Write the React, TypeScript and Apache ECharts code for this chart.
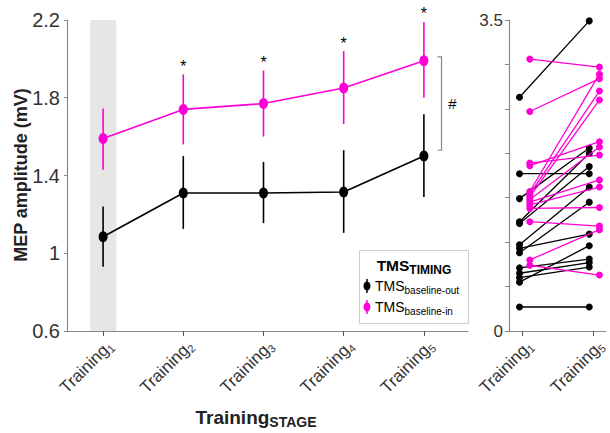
import React, { useEffect, useRef } from "react";
import * as echarts from "echarts";

// ---------- Data ----------
const stages = [1, 2, 3, 4, 5];
const pinkMean = [1.59, 1.74, 1.77, 1.85, 1.99];
const pinkLow = [1.43, 1.56, 1.6, 1.665, 1.8];
const pinkHigh = [1.745, 1.92, 1.94, 2.04, 2.19];
const blackMean = [1.085, 1.31, 1.31, 1.315, 1.5];
const blackLow = [0.93, 1.125, 1.155, 1.105, 1.29];
const blackHigh = [1.24, 1.5, 1.47, 1.53, 1.715];
const sigStages = [2, 3, 4, 5];
const bracketStage = 5.22;
const bracketTop = 2.01;
const bracketBottom = 1.53;
const bandFrom = 0.84;
const bandTo = 1.165;

const yTicksLeft = { min: 0.6, max: 2.2, step: 0.4 };
const yTicksRight = { min: 0, max: 3.5, step: 0.5 };
const rightLabels = ["1", "5"]; // Training1, Training5
const rightPositions = [1, 2];

const outT1 = [2.63, 1.77, 1.49, 1.23, 1.21, 0.97, 0.93, 0.88, 0.71, 0.65, 0.55, 0.6, 0.27];
const outT5 = [3.49, 1.77, 2.06, 2.0, 1.85, 1.62, 1.09, 1.45, 0.81, 0.77, 0.96, 0.72, 0.27];
const inT1 = [3.06, 2.47, 1.89, 1.86, 1.57, 1.54, 1.51, 1.48, 1.45, 1.42, 1.38, 1.23, 0.8, 0.74];
const inT5 = [2.97, 2.84, 1.98, 2.13, 2.89, 2.7, 2.6, 2.07, 1.7, 1.62, 1.39, 1.18, 1.14, 0.63];

// ---------- Styles ----------
const FONT = "'Liberation Sans', Arial, Helvetica, sans-serif";
const PINK = "#ff00d4";
const BLACK = "#000000";
const AXIS = "#8a8a8a";
const TXT = "#333333";
const OUT_OFF = [-0.045, -0.063];
const IN_OFF = [0.1, 0.08];

function errorBars(low: number[], high: number[], color: string) {
  return {
    type: "custom",
    xAxisIndex: 0,
    yAxisIndex: 0,
    silent: true,
    z: 3,
    data: stages.map((s, i) => [s, low[i], high[i]]),
    encode: { x: 0, y: [1, 2] },
    renderItem: (_p: any, api: any) => {
      const a = api.coord([api.value(0), api.value(1)]);
      const b = api.coord([api.value(0), api.value(2)]);
      return {
        type: "line",
        shape: { x1: a[0], y1: a[1], x2: b[0], y2: b[1] },
        style: { stroke: color, lineWidth: 1.6 },
      };
    },
  };
}

function subLabel(size: number, subSize: number, pad: number, bold = false) {
  return {
    a: { fontSize: size, fontFamily: FONT, color: TXT, fontWeight: bold ? "bold" : "normal" },
    s: { fontSize: subSize, fontFamily: FONT, color: TXT, padding: [pad, 0, 0, 0], fontWeight: bold ? "bold" : "normal" },
  };
}

export default function App() {
  const ref = useRef<HTMLDivElement>(null);
  useEffect(() => {
    if (!ref.current) return;
    const chart = echarts.init(ref.current, undefined, { renderer: "svg" });

    const pairSeries: any[] = [];
    outT1.forEach((v, i) => {
      pairSeries.push({
        type: "line",
        xAxisIndex: 1,
        yAxisIndex: 1,
        silent: true,
        z: 3,
        symbol: "circle",
        symbolSize: 7,
        itemStyle: { color: BLACK },
        lineStyle: { color: BLACK, width: 1.3 },
        data: [
          [rightPositions[0] + OUT_OFF[0], v],
          [rightPositions[1] + OUT_OFF[1], outT5[i]],
        ],
      });
    });
    inT1.forEach((v, i) => {
      pairSeries.push({
        type: "line",
        xAxisIndex: 1,
        yAxisIndex: 1,
        silent: true,
        z: 4,
        symbol: "circle",
        symbolSize: 7,
        itemStyle: { color: PINK },
        lineStyle: { color: PINK, width: 1.3 },
        data: [
          [rightPositions[0] + IN_OFF[0], v],
          [rightPositions[1] + IN_OFF[1], inT5[i]],
        ],
      });
    });

    const xLabelCommon = {
      rotate: 45,
      margin: 5,
      fontSize: 17,
      fontFamily: FONT,
      color: TXT,
      verticalAlign: "top",
      rich: subLabel(17, 11, 9),
    };

    const option: any = {
      animation: false,
      grid: [
        { left: 67, top: 20, width: 401, bottom: 102 },
        { left: 509, top: 20, width: 101, bottom: 102 },
      ],
      xAxis: [
        {
          type: "value",
          gridIndex: 0,
          min: 0.55,
          max: 5.55,
          splitLine: { show: false },
          axisLine: { show: true, lineStyle: { color: AXIS, width: 1.2 } },
          axisTick: { show: true, customValues: stages, length: 5, lineStyle: { color: "#555" } },
          axisLabel: {
            ...xLabelCommon,
            customValues: stages,
            formatter: (v: number) => `{a|Training}{s|${v}}`,
          },
        },
        {
          type: "value",
          gridIndex: 1,
          min: 0.807,
          max: 2.17,
          splitLine: { show: false },
          axisLine: { show: true, lineStyle: { color: AXIS, width: 1.2 } },
          axisTick: { show: true, customValues: rightPositions, length: 5, lineStyle: { color: "#555" } },
          axisLabel: {
            ...xLabelCommon,
            customValues: rightPositions,
            formatter: (v: number) => `{a|Training}{s|${rightLabels[Math.round(v) - 1]}}`,
          },
        },
      ],
      yAxis: [
        {
          type: "value",
          gridIndex: 0,
          min: yTicksLeft.min,
          max: yTicksLeft.max,
          interval: yTicksLeft.step,
          splitLine: { show: false },
          axisLine: { show: true, lineStyle: { color: AXIS, width: 1.2 } },
          axisTick: { show: true, length: 3, lineStyle: { color: AXIS } },
          axisLabel: {
            fontSize: 20,
            margin: 7,
            fontFamily: FONT,
            color: TXT,
            formatter: (v: number) => String(Math.round(v * 10) / 10),
          },
        },
        {
          type: "value",
          gridIndex: 1,
          min: yTicksRight.min,
          max: yTicksRight.max,
          interval: yTicksRight.step,
          splitLine: { show: false },
          axisLine: { show: true, lineStyle: { color: AXIS, width: 1.2 } },
          axisTick: { show: true, length: 4, lineStyle: { color: AXIS } },
          axisLabel: {
            fontSize: 17,
            margin: 6,
            fontFamily: FONT,
            color: TXT,
            showMaxLabel: true,
            formatter: (v: number) =>
              Math.abs(v - yTicksRight.min) < 1e-6 || Math.abs(v - yTicksRight.max) < 1e-6
                ? String(Math.round(v * 10) / 10)
                : "",
          },
        },
      ],
      graphic: [
        {
          type: "text",
          x: 21,
          y: 175,
          rotation: Math.PI / 2,
          style: {
            text: "MEP amplitude (mV)",
            fontSize: 18,
            fontWeight: "bold",
            fontFamily: FONT,
            fill: "#222",
            align: "center",
            verticalAlign: "middle",
          },
        },
        {
          type: "text",
          x: 256,
          y: 417,
          style: {
            text: "{a|Training}{s|STAGE}",
            fill: "#222",
            align: "center",
            verticalAlign: "middle",
            rich: {
              a: { fontSize: 19, fontWeight: "bold", fontFamily: FONT, fill: "#222" },
              s: { fontSize: 14, fontWeight: "bold", fontFamily: FONT, fill: "#222", padding: [10, 0, 0, 0] },
            },
          },
        },
        // legend box
        {
          type: "rect",
          shape: { x: 359.5, y: 250.5, width: 109, height: 73 },
          style: { fill: "#ffffff", stroke: "#cccccc", lineWidth: 1 },
          z: 50,
        },
        {
          type: "text",
          x: 414,
          y: 265,
          z: 51,
          style: {
            text: "{a|TMS}{s|TIMING}",
            align: "center",
            verticalAlign: "middle",
            rich: {
              a: { fontSize: 15.5, fontWeight: "bold", fontFamily: FONT, fill: "#000" },
              s: { fontSize: 12, fontWeight: "bold", fontFamily: FONT, fill: "#000", padding: [9, 0, 0, 0] },
            },
          },
        },
        {
          type: "line",
          z: 51,
          shape: { x1: 367, y1: 279, x2: 367, y2: 293 },
          style: { stroke: BLACK, lineWidth: 1.5 },
        },
        {
          type: "ellipse",
          z: 52,
          shape: { cx: 367, cy: 286, rx: 3.5, ry: 4.5 },
          style: { fill: BLACK },
        },
        {
          type: "text",
          x: 375,
          y: 286,
          z: 51,
          style: {
            text: "{a|TMS}{s|baseline-out}",
            align: "left",
            verticalAlign: "middle",
            rich: {
              a: { fontSize: 14, fontFamily: FONT, fill: "#000" },
              s: { fontSize: 10, fontFamily: FONT, fill: "#000", padding: [8, 0, 0, 0] },
            },
          },
        },
        {
          type: "line",
          z: 51,
          shape: { x1: 367, y1: 300, x2: 367, y2: 314 },
          style: { stroke: PINK, lineWidth: 1.5 },
        },
        {
          type: "ellipse",
          z: 52,
          shape: { cx: 367, cy: 307, rx: 3.5, ry: 4.5 },
          style: { fill: PINK },
        },
        {
          type: "text",
          x: 375,
          y: 307,
          z: 51,
          style: {
            text: "{a|TMS}{s|baseline-in}",
            align: "left",
            verticalAlign: "middle",
            rich: {
              a: { fontSize: 14, fontFamily: FONT, fill: "#000" },
              s: { fontSize: 10, fontFamily: FONT, fill: "#000", padding: [8, 0, 0, 0] },
            },
          },
        },
      ],
      series: [
        {
          type: "line",
          xAxisIndex: 0,
          yAxisIndex: 0,
          z: 1,
          silent: true,
          data: [],
          markArea: {
            silent: true,
            itemStyle: { color: "#e6e6e6" },
            data: [[{ xAxis: bandFrom }, { xAxis: bandTo }]],
          },
        },
        errorBars(blackLow, blackHigh, BLACK),
        errorBars(pinkLow, pinkHigh, PINK),
        {
          type: "line",
          xAxisIndex: 0,
          yAxisIndex: 0,
          z: 4,
          silent: true,
          symbol: "circle",
          symbolSize: [9, 11],
          itemStyle: { color: BLACK },
          lineStyle: { color: BLACK, width: 1.6 },
          data: stages.map((s, i) => [s, blackMean[i]]),
        },
        {
          type: "line",
          xAxisIndex: 0,
          yAxisIndex: 0,
          z: 4,
          silent: true,
          symbol: "circle",
          symbolSize: [9, 11],
          itemStyle: { color: PINK },
          lineStyle: { color: PINK, width: 1.6 },
          data: stages.map((s, i) => [s, pinkMean[i]]),
        },
        {
          type: "custom",
          xAxisIndex: 0,
          yAxisIndex: 0,
          silent: true,
          z: 5,
          data: sigStages.map((s) => [s, pinkHigh[stages.indexOf(s)]]),
          encode: { x: 0, y: 1 },
          renderItem: (_p: any, api: any) => {
            const c = api.coord([api.value(0), api.value(1)]);
            return {
              type: "text",
              x: c[0],
              y: c[1] - 8,
              style: {
                text: "*",
                fill: "#000",
                fontSize: 16,
                fontFamily: FONT,
                align: "center",
                verticalAlign: "middle",
              },
            };
          },
        },
        {
          type: "custom",
          xAxisIndex: 0,
          yAxisIndex: 0,
          silent: true,
          z: 5,
          data: [[bracketStage, bracketTop, bracketBottom]],
          encode: { x: 0, y: [1, 2] },
          renderItem: (_p: any, api: any) => {
            const t = api.coord([api.value(0), api.value(1)]);
            const b = api.coord([api.value(0), api.value(2)]);
            return {
              type: "group",
              children: [
                {
                  type: "polyline",
                  shape: {
                    points: [
                      [t[0] - 4, t[1]],
                      [t[0], t[1]],
                      [b[0], b[1]],
                      [b[0] - 4, b[1]],
                    ],
                  },
                  style: { stroke: "#888", lineWidth: 1.2, fill: "none" },
                },
                {
                  type: "text",
                  x: t[0] + 11,
                  y: (t[1] + b[1]) / 2,
                  style: {
                    text: "#",
                    fill: "#000",
                    fontSize: 15,
                    fontFamily: FONT,
                    align: "center",
                    verticalAlign: "middle",
                  },
                },
              ],
            };
          },
        },
        ...pairSeries,
      ],
    };
    chart.setOption(option);
    return () => chart.dispose();
  }, []);

  return (
    <div
      ref={ref}
      style={{ position: "fixed", left: 0, top: 0, width: 610, height: 433, background: "#fff" }}
    />
  );
}
